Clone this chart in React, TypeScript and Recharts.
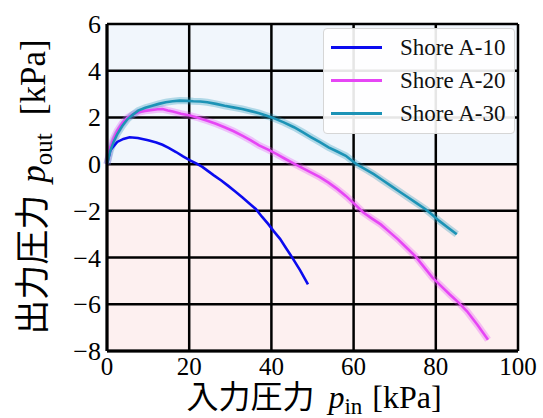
import { LineChart, Line, XAxis, YAxis, CartesianGrid } from "recharts";

// Shore A-10
const a10X = [0, 0.8, 2.5, 4, 5.5, 7.5, 10, 12, 13.5, 15, 16.8, 18.5, 20.2, 21.8, 23.2, 24.6, 26, 27.8, 29.5, 31.2, 32.9, 34.5, 36.2, 37.7, 39.2, 40.6, 42.1, 43.5, 45, 47, 48.9];
const a10Y = [0, 0.6, 0.95, 1.08, 1.15, 1.12, 1.02, 0.93, 0.83, 0.7, 0.52, 0.33, 0.16, 0.02, -0.12, -0.3, -0.48, -0.7, -0.93, -1.17, -1.42, -1.66, -1.92, -2.25, -2.56, -2.88, -3.2, -3.58, -3.98, -4.55, -5.15];

// Shore A-20
const a20X = [0, 0.8, 1.6, 2.5, 3.7, 5, 6.3, 7.6, 9.3, 11, 12.3, 13.5, 14.8, 16, 18, 20.2, 22.3, 24.4, 26.5, 28.6, 30.7, 32.9, 35, 37, 39.2, 41.3, 43.4, 45.5, 47.6, 49.7, 51.8, 53.9, 56, 58.1, 60.2, 62.3, 64.4, 66.6, 68.7, 70.8, 72.9, 75, 77.1, 79.2, 81.3, 83.4, 85.5, 87.6, 90.2, 92.7];
const a20Y = [0, 0.72, 1.1, 1.43, 1.75, 2.0, 2.13, 2.22, 2.28, 2.32, 2.35, 2.36, 2.3, 2.25, 2.16, 2.08, 1.98, 1.86, 1.73, 1.58, 1.42, 1.22, 1.02, 0.8, 0.62, 0.43, 0.22, 0.02, -0.17, -0.36, -0.56, -0.79, -1.06, -1.36, -1.7, -2.06, -2.32, -2.58, -2.9, -3.22, -3.58, -3.94, -4.4, -4.86, -5.22, -5.58, -5.92, -6.3, -6.9, -7.52];

// Shore A-30
const a30X = [0, 0.8, 1.6, 2.5, 3.7, 5, 6.3, 7.6, 9.3, 11, 12.6, 14.3, 16, 17.7, 19.4, 21, 22.7, 24.4, 26.5, 28.6, 30.7, 32.9, 35, 37, 38.7, 40.4, 43, 45.5, 47.6, 49.7, 51.8, 53.9, 56, 58.1, 59.4, 60.7, 62.8, 64.9, 67, 69.1, 71.2, 73.3, 75.4, 77.5, 79.2, 80.9, 83, 85.1];
const a30Y = [0, 0.57, 0.95, 1.29, 1.63, 1.93, 2.12, 2.29, 2.41, 2.5, 2.58, 2.65, 2.69, 2.72, 2.71, 2.69, 2.68, 2.65, 2.58, 2.5, 2.43, 2.36, 2.27, 2.18, 2.08, 1.98, 1.79, 1.58, 1.37, 1.15, 0.94, 0.72, 0.54, 0.36, 0.18, 0.0, -0.21, -0.43, -0.68, -0.93, -1.18, -1.43, -1.68, -1.93, -2.18, -2.44, -2.72, -3.0];

const xTicks = [0, 20, 40, 60, 80, 100];
const yTicks = [-8, -6, -4, -2, 0, 2, 4, 6];

const series = [
  { name: "Shore A-10", xs: a10X, ys: a10Y, color: "#0b0bef", band: false },
  { name: "Shore A-20", xs: a20X, ys: a20Y, color: "#e646f5", band: true },
  { name: "Shore A-30", xs: a30X, ys: a30Y, color: "#1c93b6", band: true },
].map((s) => ({ ...s, data: s.xs.map((x, i) => ({ x, y: s.ys[i] })) }));

const serif = "'Liberation Serif', 'Times New Roman', serif";
const cjk = "'Noto Sans CJK JP', sans-serif";
const BLUE_BG = "#f1f6fc";
const PINK_BG = "#fdf0f0";

const fmt = (v: number) => (v < 0 ? "\u2212" + Math.abs(v) : String(v));

const XTick = (p: any) => (
  <text x={p.x} y={p.y + 16} textAnchor="middle" style={{ fontFamily: serif, fontSize: 25 }} fill="#000">
    {fmt(p.payload.value)}
  </text>
);

const YTick = (p: any) => (
  <text x={p.x + 2} y={p.y + 9} textAnchor="end" style={{ fontFamily: serif, fontSize: 26 }} fill="#000">
    {fmt(p.payload.value)}
  </text>
);

export default function App() {
  return (
    <div style={{ position: "fixed", left: 0, top: 0, width: 543, height: 418, background: "#fff" }}>
      <LineChart width={543} height={418} margin={{ top: 24, right: 25, bottom: 0, left: 0 }}>
        <CartesianGrid
          stroke="#000"
          strokeWidth={2.5}
          horizontalFill={[BLUE_BG, BLUE_BG, BLUE_BG, PINK_BG, PINK_BG, PINK_BG, PINK_BG, PINK_BG]}
          fillOpacity={1}
        />
        <XAxis
          type="number"
          dataKey="x"
          domain={[0, 100]}
          ticks={xTicks}
          height={67}
          tick={XTick}
          tickLine={false}
          axisLine={{ stroke: "#000", strokeWidth: 3 }}
          allowDuplicatedCategory={false}
          label={{
            content: () => (
              <text x={314} y={408} textAnchor="middle" fill="#000" style={{ fontSize: 32 }}>
                <tspan style={{ fontFamily: cjk }}>入力圧力</tspan>
                <tspan dx={14} style={{ fontFamily: serif, fontStyle: "italic" }}>p</tspan>
                <tspan style={{ fontFamily: serif, fontSize: 23 }} dy={6}>in</tspan>
                <tspan dx={10} style={{ fontFamily: serif }} dy={-6}>[kPa]</tspan>
              </text>
            ),
          }}
        />
        <YAxis
          type="number"
          dataKey="y"
          domain={[-8, 6]}
          ticks={yTicks}
          width={107}
          tick={YTick}
          tickLine={false}
          axisLine={{ stroke: "#000", strokeWidth: 3 }}
          label={{
            content: () => (
              <text transform="translate(45,187) rotate(-90)" x={0} y={0} textAnchor="middle" fill="#000" style={{ fontSize: 35 }}>
                <tspan style={{ fontFamily: cjk }}>出力圧力</tspan>
                <tspan dx={12} style={{ fontFamily: serif, fontStyle: "italic" }}>p</tspan>
                <tspan style={{ fontFamily: serif, fontSize: 25 }} dy={7}>out</tspan>
                <tspan dx={18} style={{ fontFamily: serif }} dy={-7}>[kPa]</tspan>
              </text>
            ),
          }}
        />
        {series.filter((s) => s.band).map((s) => (
          <Line
            key={s.name + "-band"}
            data={s.data}
            dataKey="y"
            type="linear"
            stroke={s.color}
            strokeOpacity={0.3}
            strokeWidth={7}
            dot={false}
            legendType="none"
            isAnimationActive={false}
          />
        ))}
        {series.map((s) => (
          <Line
            key={s.name}
            name={s.name}
            data={s.data}
            dataKey="y"
            type="linear"
            stroke={s.color}
            strokeWidth={2.6}
            dot={false}
            isAnimationActive={false}
          />
        ))}
      </LineChart>
      {/* legend box, upper right inside the plot */}
      <div
        style={{
          position: "absolute",
          left: 323,
          top: 28,
          width: 192,
          height: 106,
          background: "rgba(255,255,255,0.9)",
          border: "1px solid #d6d6d6",
          borderRadius: 4,
          boxSizing: "border-box",
          paddingTop: 2,
        }}
      >
        {series.map((s) => (
          <div key={s.name} style={{ display: "flex", alignItems: "center", height: 33 }}>
            <div style={{ width: 51, height: 3, background: s.color, marginLeft: 7 }} />
            <span style={{ marginLeft: 18, fontFamily: serif, fontSize: 23, color: "#111" }}>{s.name}</span>
          </div>
        ))}
      </div>
    </div>
  );
}
